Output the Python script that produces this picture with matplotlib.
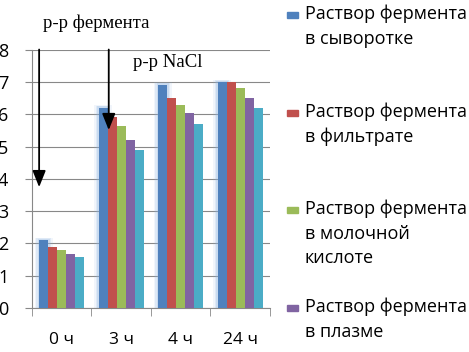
import matplotlib.pyplot as plt
import numpy as np

times = ["0 ч", "3 ч", "4 ч", "24 ч"]
series = [
    "Раствор фермента\nв сыворотке",
    "Раствор фермента\nв фильтрате",
    "Раствор фермента\nв молочной\nкислоте",
    "Раствор фермента\nв плазме",
    "Раствор фермента\nв физ. растворе",
]
values = [
    [2.1, 6.2, 6.92, 7.0],
    [1.9, 5.93, 6.52, 7.0],
    [1.8, 5.65, 6.3, 6.83],
    [1.68, 5.2, 6.05, 6.5],
    [1.58, 4.9, 5.7, 6.2],
]
colors = ["#4F81BD", "#C0504D", "#9BBB59", "#8064A2", "#4BACC6"]

# arrows: (label, x, y of tip)
arrows = [("р-р фермента", -0.38, 3.66), ("р-р NaCl", 0.79, 5.43)]

fig = plt.figure(figsize=(4.69, 3.52), dpi=100)
ax = fig.add_axes([0.0682, 0.125, 0.5075, 0.733])

x = np.arange(len(times))
n = len(series)
w = 0.152
for i, (vals, c) in enumerate(zip(values, colors)):
    pos = x + (i - (n - 1) / 2) * w
    if i == 0:
        # soft glow behind the first bar
        for k, a in [(2.0, 0.12), (1.6, 0.18), (1.3, 0.25)]:
            ax.bar(pos, np.array(vals) + 0.04 * k, width=w * k, color="#8DB3E2",
                   alpha=a, zorder=1, linewidth=0)
    ax.bar(pos, vals, width=w, color=c, zorder=3, linewidth=0)

ax.set_xlim(-0.5, len(times) - 0.5)
ax.set_ylim(0, 8)
ax.set_yticks(range(9))
ax.set_yticklabels([str(v) for v in range(9)], fontsize=13, family=["Open Sans", "DejaVu Sans"])
ax.set_xticks(x)
ax.set_xticklabels(times, fontsize=12.5, family=["Open Sans", "DejaVu Sans"])
ax.set_xticks(np.arange(len(times) + 1) - 0.5, minor=True)
ax.tick_params(axis="x", which="major", length=0, pad=17)
ax.tick_params(axis="x", which="minor", length=6, color="#888888", direction="out")
ax.tick_params(axis="y", length=5, color="#888888", pad=12)
ax.grid(axis="y", color="#888888", linewidth=0.8, zorder=0)
ax.set_axisbelow(True)
for s in ["top", "right"]:
    ax.spines[s].set_visible(False)
for s in ["left", "bottom"]:
    ax.spines[s].set_color("#888888")

for label, ax_x, tip in arrows:
    ax.annotate("", xy=(ax_x, tip), xytext=(ax_x, 8.1),
                arrowprops=dict(arrowstyle="-|>,head_width=0.4,head_length=1.0",
                                color="black", lw=1.3),
                annotation_clip=False, zorder=5)
fig.text(0.092, 0.935, arrows[0][0], fontsize=13.5, family="Liberation Serif", va="center")
fig.text(0.283, 0.823, arrows[1][0], fontsize=13.5, family="Liberation Serif", va="center")

# legend drawn by hand to match the cropped layout
legend_tops = [0.966, 0.688, 0.412, 0.134, -0.144]
for lab, c, top in zip(series, colors, legend_tops):
    fig.patches.append(plt.Rectangle((0.612, top - 0.018), 0.0235, 0.0175,
                                     transform=fig.transFigure, color=c))
    fig.text(0.65, top + 0.02, lab, fontsize=13, va="top", linespacing=1.45,
             family=["Open Sans", "DejaVu Sans"])

fig.savefig("out.png")
